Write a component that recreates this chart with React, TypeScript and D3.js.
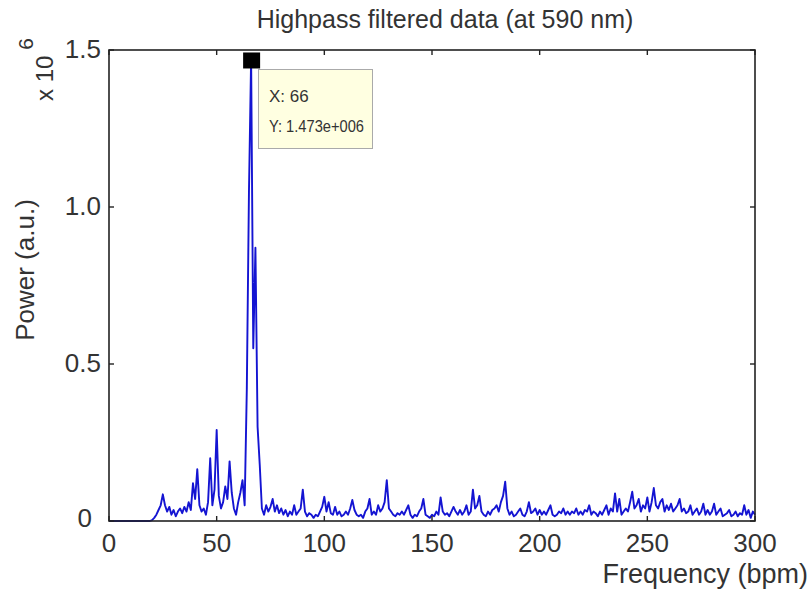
import React from "react";
import * as d3 from "d3";

const title = "Highpass filtered data (at 590 nm)";
const xLabel = "Frequency (bpm)";
const yLabel = "Power (a.u.)";
const xTicks = [0, 50, 100, 150, 200, 250, 300];
const yTicks = [0, 0.5, 1.0, 1.5];
const yTickLabels = ["0", "0.5", "1.0", "1.5"];
const freqStep = 1; // bpm per sample
// power (x 10^6), one value per bpm from 0 to 300
const power = [
  0, 0, 0, 0, 0, 0, 0, 0, 0, 0,
  0, 0, 0, 0, 0, 0, 0, 0, 0, 0,
  0.003, 0.01, 0.02, 0.035, 0.05, 0.085, 0.05, 0.03, 0.045, 0.02,
  0.035, 0.015, 0.03, 0.04, 0.025, 0.045, 0.03, 0.06, 0.035, 0.12,
  0.07, 0.165, 0.05, 0.03, 0.04, 0.02, 0.06, 0.2, 0.05, 0.1,
  0.29, 0.08, 0.04, 0.06, 0.11, 0.07, 0.19, 0.09, 0.04, 0.02,
  0.06, 0.09, 0.13, 0.05, 0.42, 1.05, 1.473, 0.55, 0.87, 0.3,
  0.18, 0.04, 0.02, 0.05, 0.03, 0.045, 0.07, 0.03, 0.05, 0.025,
  0.04, 0.02, 0.035, 0.015, 0.03, 0.02, 0.05, 0.02, 0.03, 0.04,
  0.1, 0.03, 0.015, 0.025, 0.02, 0.01, 0.02, 0.015, 0.03, 0.045,
  0.077, 0.03, 0.06, 0.025, 0.02, 0.045, 0.02, 0.03, 0.015, 0.02,
  0.03, 0.02, 0.04, 0.067, 0.035, 0.02, 0.015, 0.02, 0.01, 0.03,
  0.04, 0.07, 0.02, 0.03, 0.02, 0.05, 0.03, 0.04, 0.06, 0.13,
  0.04, 0.03, 0.02, 0.015, 0.025, 0.02, 0.03, 0.02, 0.035, 0.05,
  0.02, 0.01, 0.02, 0.015, 0.03, 0.04, 0.07, 0.02, 0.015, 0.01,
  0.02, 0.015, 0.03, 0.02, 0.075, 0.03, 0.02, 0.025, 0.015, 0.03,
  0.045, 0.03, 0.02, 0.035, 0.02, 0.03, 0.05, 0.02, 0.03, 0.1,
  0.04, 0.05, 0.08, 0.03, 0.02, 0.015, 0.03, 0.02, 0.035, 0.04,
  0.05, 0.03, 0.06, 0.08, 0.125, 0.04, 0.02, 0.03, 0.015, 0.02,
  0.03, 0.04, 0.02, 0.015, 0.03, 0.06, 0.025, 0.03, 0.04, 0.02,
  0.035, 0.02, 0.03, 0.02, 0.035, 0.05, 0.02, 0.015, 0.02, 0.03,
  0.025, 0.04, 0.02, 0.03, 0.02, 0.03, 0.025, 0.04, 0.02, 0.03,
  0.02, 0.035, 0.03, 0.05, 0.02, 0.03, 0.025, 0.015, 0.03, 0.02,
  0.035, 0.05, 0.02, 0.04, 0.03, 0.088, 0.03, 0.07, 0.02, 0.03,
  0.04, 0.03, 0.06, 0.093, 0.04, 0.05, 0.07, 0.03, 0.05, 0.04,
  0.075, 0.03, 0.06, 0.105, 0.05, 0.04, 0.06, 0.07, 0.03, 0.05,
  0.035, 0.055, 0.03, 0.04, 0.05, 0.07, 0.03, 0.04, 0.025, 0.03,
  0.05, 0.02, 0.03, 0.04, 0.02, 0.03, 0.055, 0.02, 0.035, 0.02,
  0.03, 0.055, 0.02, 0.03, 0.04, 0.015, 0.02, 0.025, 0.035, 0.015,
  0.02, 0.03, 0.015, 0.025, 0.02, 0.05, 0.02, 0.035, 0.01, 0.03,
  0.02,
];
const cursorX = 66;
const cursorY = 1.473;
const cursorLines = ["X: 66", "Y: 1.473e+006"];

const W = 811;
const H = 596;
const m = { left: 109, right: 755, top: 50, bottom: 521 };
const font = "'Liberation Sans', Arial, sans-serif";
const textColor = "#333";

export default function App() {
  const x = d3.scaleLinear().domain([0, 300]).range([m.left, m.right]);
  const y = d3.scaleLinear().domain([0, 1.5]).range([m.bottom, m.top]);
  const line = d3
    .line<number>()
    .x((_, i) => x(i * freqStep))
    .y((d) => y(d));
  const tickLen = 5;
  const cx = x(cursorX);
  const cy = y(cursorY);
  return (
    <svg
      width={W}
      height={H}
      style={{ position: "absolute", left: 0, top: 0, background: "#fff" }}
      fontFamily={font}
    >
      <rect x={0} y={0} width={W} height={H} fill="#fff" />
      <text x={445} y={28} textAnchor="middle" fontSize={25} fill={textColor}>
        {title}
      </text>
      <path d={line(power) || ""} fill="none" stroke="#1414d2" strokeWidth={1.9} strokeLinejoin="round" />
      <rect
        x={m.left}
        y={m.top}
        width={m.right - m.left}
        height={m.bottom - m.top}
        fill="none"
        stroke="#222"
        strokeWidth={1.6}
      />
      {xTicks.map((t) => (
        <g key={"x" + t}>
          <line x1={x(t)} x2={x(t)} y1={m.bottom} y2={m.bottom - tickLen} stroke="#222" strokeWidth={1.4} />
          <line x1={x(t)} x2={x(t)} y1={m.top} y2={m.top + tickLen} stroke="#222" strokeWidth={1.4} />
          <text x={x(t)} y={552} textAnchor="middle" fontSize={26} fill={textColor}>
            {t}
          </text>
        </g>
      ))}
      {yTicks.map((t, i) => (
        <g key={"y" + t}>
          <line x1={m.left} x2={m.left + tickLen} y1={y(t)} y2={y(t)} stroke="#222" strokeWidth={1.4} />
          <line x1={m.right} x2={m.right - tickLen} y1={y(t)} y2={y(t)} stroke="#222" strokeWidth={1.4} />
          <text
            x={t === 0 ? 92 : 101}
            y={y(t) + (t === 0 ? 6 : 8)}
            textAnchor="end"
            fontSize={26}
            fill={textColor}
          >
            {yTickLabels[i]}
          </text>
        </g>
      ))}
      <text x={808} y={583} textAnchor="end" fontSize={27} fill={textColor}>
        {xLabel}
      </text>
      <text
        transform={`translate(34, 270) rotate(-90)`}
        textAnchor="middle"
        fontSize={26}
        fill={textColor}
      >
        {yLabel}
      </text>
      <text transform="translate(53, 101) rotate(-90)" fontSize={24} fill={textColor}>
        x 10
        <tspan dx={6} dy={-20} fontSize={21}>6</tspan>
      </text>
      <rect x={cx - 8} y={cy - 6} width={17} height={16} fill="#000" />
      <rect x={258.5} y={69.5} width={114} height={79} fill="#ffffe1" stroke="#aaa" strokeWidth={1} />
      {cursorLines.map((s, i) => (
        <text
          key={s}
          x={269}
          y={102 + i * 30}
          fontSize={17}
          fill={textColor}
          textLength={i === 1 ? 95 : undefined}
          lengthAdjust={i === 1 ? "spacingAndGlyphs" : undefined}
        >
          {s}
        </text>
      ))}
    </svg>
  );
}
